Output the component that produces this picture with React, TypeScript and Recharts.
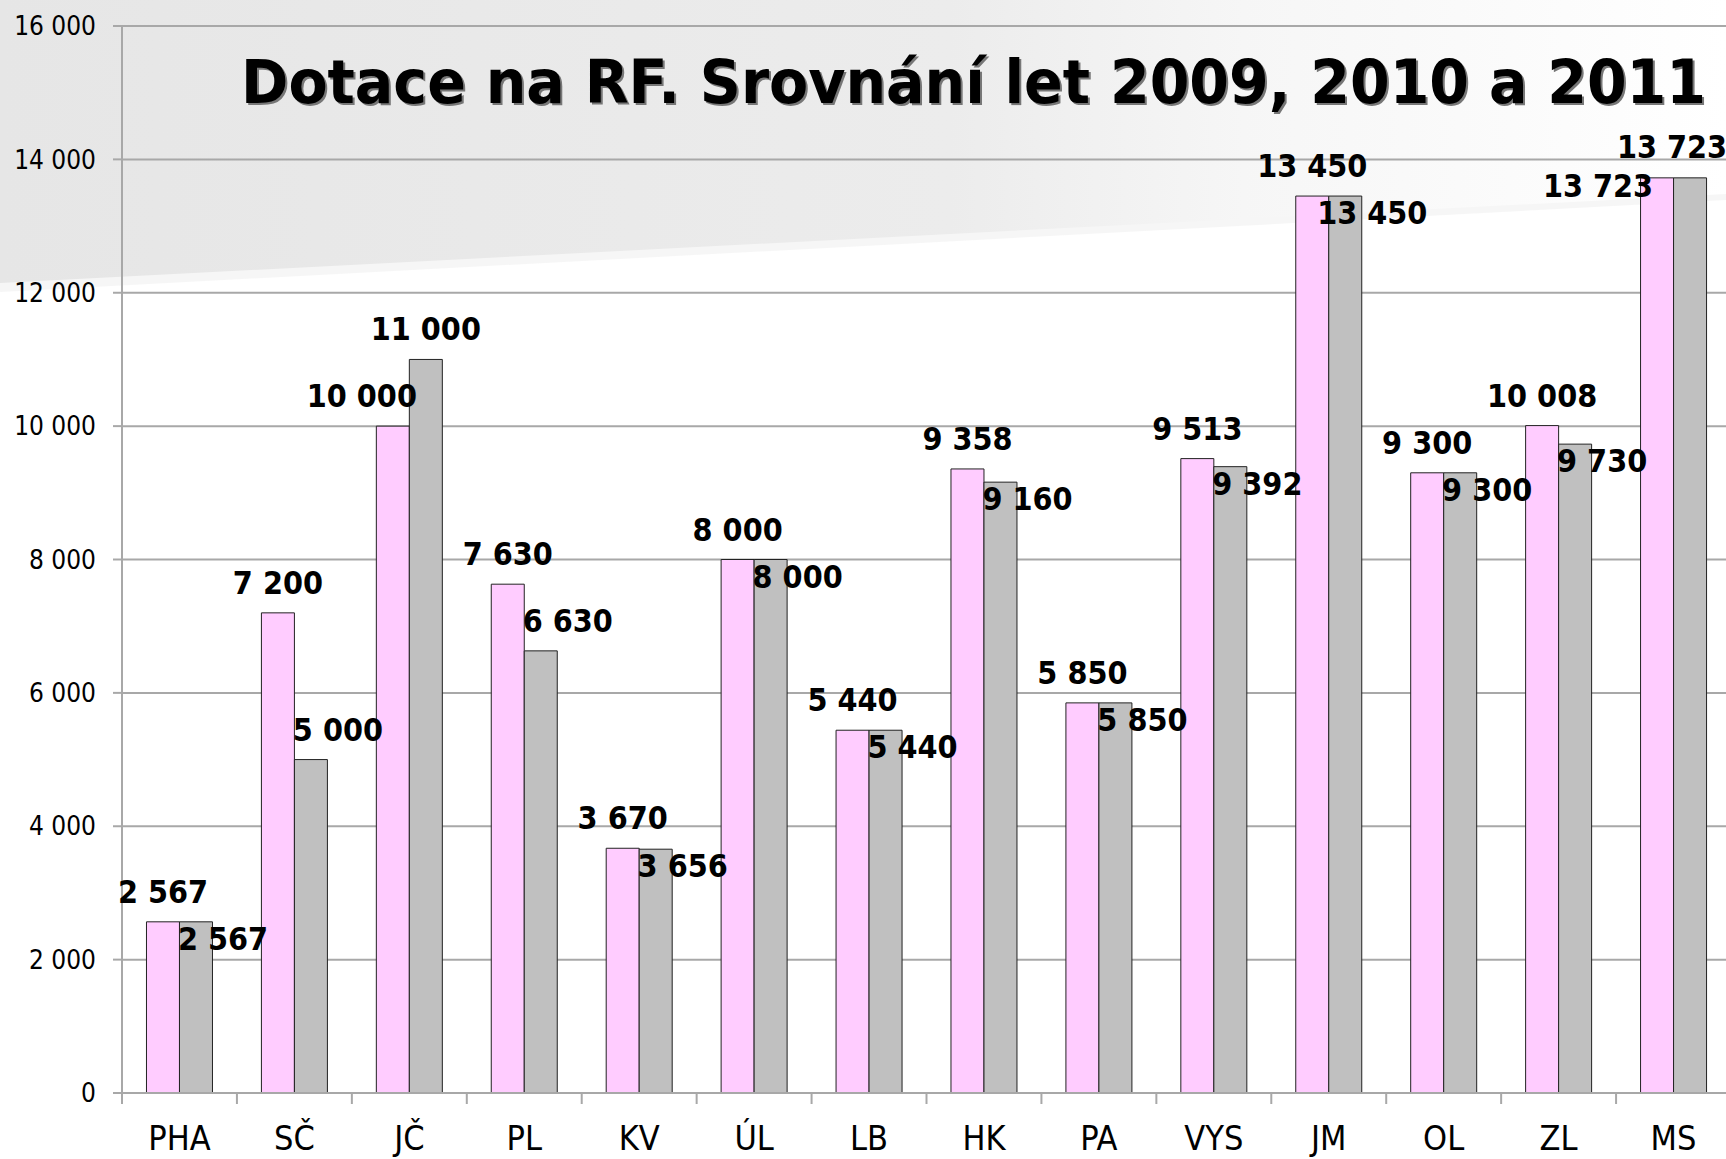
import React from 'react';
import { BarChart, Bar, XAxis, YAxis, CartesianGrid, LabelList } from 'recharts';

// kraje a dotace (tis. Kč)
const regions = ['PHA', 'SČ', 'JČ', 'PL', 'KV', 'ÚL', 'LB', 'HK', 'PA', 'VYS', 'JM', 'OL', 'ZL', 'MS'];
const pinkValues = [2567, 7200, 10000, 7630, 3670, 8000, 5440, 9358, 5850, 9513, 13450, 9300, 10008, 13723];
const grayValues = [2567, 5000, 11000, 6630, 3656, 8000, 5440, 9160, 5850, 9392, 13450, 9300, 9730, 13723];
const yTicks = [0, 2000, 4000, 6000, 8000, 10000, 12000, 14000, 16000];
const edgeTicks = [...regions.map((_, i) => i), regions.length];

const data = regions.map((name, i) => ({
  name,
  pos: i + 0.5,
  pink: pinkValues[i],
  gray: grayValues[i],
}));

const FONT = "'DejaVu Sans Condensed', 'DejaVu Sans', sans-serif";
const GRID = '#a8a8a8';

const fmt = (v: number) => String(v).replace(/\B(?=(\d{3})+(?!\d))/g, ' ');

const labelStyle = {
  fontFamily: FONT,
  fontStretch: 'condensed' as const,
  fontWeight: 700,
  fontSize: 32,
  fill: '#000',
};

const PinkLabel = (props: any) => {
  const { x, y, width, value } = props;
  const i = regions.indexOf(value);
  const p = pinkValues[i];
  const g = grayValues[i];
  let cx = x + width / 2;
  let by = y - 19;
  if (g > p) cx -= 31;
  // poslední sloupec u okraje: popisek vlevo od sloupce
  if (i === regions.length - 1) {
    cx -= 59;
    by = y + 19;
  }
  return (
    <text x={cx} y={by} textAnchor="middle" style={labelStyle}>
      {fmt(p)}
    </text>
  );
};

const GrayLabel = (props: any) => {
  const { x, y, width, value } = props;
  const i = regions.indexOf(value);
  const p = pinkValues[i];
  const g = grayValues[i];
  let cx = x + width / 2 + 27;
  let by = Math.abs(g - p) < 300 ? y + 28 : y - 19;
  if (g > p) cx = x + width / 2;
  if (i === regions.length - 1) {
    cx = x + width / 2 - 18;
    by = y - 20;
  }
  return (
    <text x={cx} y={by} textAnchor="middle" style={labelStyle}>
      {fmt(g)}
    </text>
  );
};

const NoTick = () => <g />;

export default function App() {
  return (
    <div
      style={{
        position: 'fixed',
        left: 0,
        top: 0,
        width: 1726,
        height: 1159,
        overflow: 'hidden',
        background: '#fff',
      }}
    >
      {/* pozadí snímku */}
      <svg width={1726} height={1159} style={{ position: 'absolute', left: 0, top: 0 }}>
        <defs>
          <linearGradient id="swoosh" x1="0" y1="0" x2="1" y2="0">
            <stop offset="0%" stopColor="#e6e6e6" />
            <stop offset="55%" stopColor="#ececec" />
            <stop offset="72%" stopColor="#f6f6f6" />
            <stop offset="100%" stopColor="#ffffff" />
          </linearGradient>
        </defs>
        <polygon points="0,0 1726,0 1726,200 0,292" fill="#f2f2f2" opacity={0.7} />
        <polygon points="0,0 1726,0 1726,194 0,283" fill="url(#swoosh)" />
      </svg>

      <div style={{ position: 'absolute', left: 0, top: 0 }}>
        <BarChart
          width={1740}
          height={1159}
          data={data}
          margin={{ top: 26, right: 9, left: 0, bottom: 0 }}
          barCategoryGap="21.3%"
          barGap={0}
        >
          <CartesianGrid xAxisId="cat" vertical={false} stroke={GRID} strokeWidth={2} />
          <XAxis
            xAxisId="cat"
            dataKey="name"
            height={54}
            axisLine={false}
            tickLine={false}
            tickSize={0}
            tickMargin={21}
            interval={0}
            tick={{ fontFamily: FONT, fontStretch: 'condensed', fontSize: 34, fill: '#000' }}
          />
          <XAxis
            xAxisId="a_edge"
            type="number"
            dataKey="pos"
            domain={[0, regions.length]}
            ticks={edgeTicks}
            interval={0}
            allowDataOverflow
            height={12}
            tick={NoTick}
            tickSize={11}
            axisLine={{ stroke: GRID, strokeWidth: 2 }}
            tickLine={{ stroke: GRID, strokeWidth: 2 }}
          />
          <YAxis
            domain={[0, 16000]}
            ticks={yTicks}
            width={122}
            tickFormatter={fmt}
            tickSize={9}
            tickMargin={17}
            axisLine={{ stroke: GRID, strokeWidth: 2 }}
            tickLine={{ stroke: GRID, strokeWidth: 2 }}
            tick={{ fontFamily: FONT, fontStretch: 'condensed', fontSize: 26, fill: '#000' }}
          />
          <Bar xAxisId="cat" dataKey="pink" fill="#ffccff" stroke="#222" strokeWidth={1} isAnimationActive={false}>
            <LabelList dataKey="name" content={PinkLabel} />
          </Bar>
          <Bar xAxisId="cat" dataKey="gray" fill="#c0c0c0" stroke="#222" strokeWidth={1} isAnimationActive={false}>
            <LabelList dataKey="name" content={GrayLabel} />
          </Bar>
        </BarChart>
      </div>

      {/* nadpis */}
      <svg
        width={1726}
        height={140}
        style={{ position: 'absolute', left: 0, top: 0, pointerEvents: 'none' }}
      >
        <text
          x={243}
          y={105}
          textLength={1465}
          lengthAdjust="spacingAndGlyphs"
          style={{ fontFamily: FONT, fontWeight: 700, fontSize: 60, fill: '#777' }}
        >
          Dotace na RF. Srovnání let 2009, 2010 a 2011
        </text>
        <text
          x={241}
          y={103}
          textLength={1465}
          lengthAdjust="spacingAndGlyphs"
          style={{ fontFamily: FONT, fontWeight: 700, fontSize: 60, fill: '#000' }}
        >
          Dotace na RF. Srovnání let 2009, 2010 a 2011
        </text>
      </svg>
    </div>
  );
}
